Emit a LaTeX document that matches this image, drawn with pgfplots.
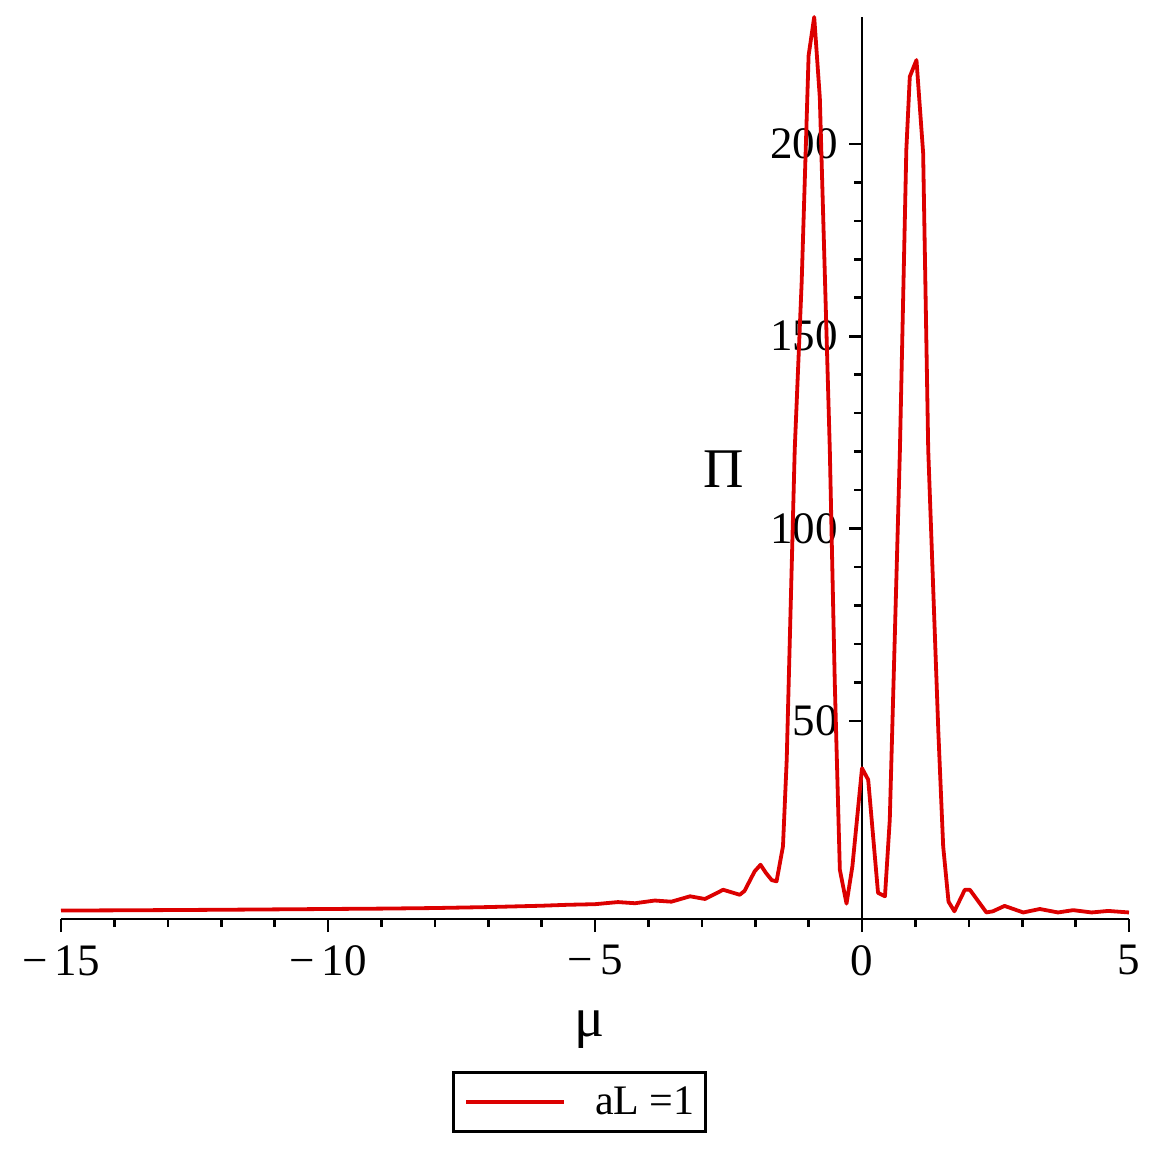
\documentclass[border=0pt]{standalone}
\usepackage{fontspec}
\setmainfont{Liberation Serif}
\usepackage{pgfplots}
\pgfplotsset{compat=1.18}
\definecolor{maplered}{RGB}{220,0,0}

\pgfplotstableread{
x y
-15 0.7
-14 0.75
-13 0.82
-12 0.9
-11 1.0
-10 1.1
-9 1.2
-8 1.35
-7 1.6
-6 1.95
-5.5 2.2
-5 2.35
-4.57 2.9
-4.25 2.6
-3.88 3.3
-3.57 3.0
-3.22 4.4
-2.94 3.7
-2.6 6.1
-2.29 4.8
-2.2 5.8
-2.01 10.9
-1.90 12.6
-1.80 10.5
-1.69 8.6
-1.60 8.3
-1.48 17.4
-1.41 39.9
-1.26 120.5
-1.13 164
-1.0 223
-0.895 233
-0.79 212
-0.603 120.5
-0.51 60
-0.415 11.3
-0.29 2.5
-0.18 12.2
0.0 37.7
0.116 34.7
0.30 5.3
0.43 4.4
0.52 24.3
0.71 120.5
0.83 198.5
0.895 217.5
1.02 221.8
1.145 197.6
1.24 120.5
1.43 47
1.52 17.4
1.62 3.0
1.73 0.5
1.925 6.1
2.02 6.1
2.33 0.2
2.45 0.5
2.67 1.9
3.02 0.2
3.33 1.1
3.67 0.2
3.955 0.8
4.3 0.2
4.61 0.6
5.0 0.2
}\pitable

\begin{document}
\begin{tikzpicture}
  % frame of the whole reference picture (1 px = 0.5pt)
  \path[use as bounding box] (-30.5pt,-118.5pt) rectangle (547.5pt,459.5pt);
  \begin{axis}[
    at={(0pt,0pt)}, anchor=south west,
    scale only axis,
    width=534pt, height=451pt,
    xmin=-15, xmax=5,
    ymin=-1.5, ymax=233,
    line width=1.4pt,
    axis x line*=bottom,
    axis y line*=center,
    separate axis lines,
    every outer x axis line/.append style={line width=1.4pt},
    every inner y axis line/.append style={line width=1.4pt},
    every outer y axis line/.append style={line width=1.4pt},
    every tick/.style={black, line width=1.3pt},
    tick align=outside,
    major tick length=6.5pt,
    minor tick length=4pt,
    hide obscured x ticks=false,
    xtick={-15,-10,-5,0,5},
    xticklabels={−\,15,−\,10,−\,5,0,5},
    minor x tick num=4,
    ytick={50,100,150,200},
    yticklabels={50,100,150,200},
    minor y tick num=4,
    tick label style={font=\fontsize{22.5}{27}\selectfont, inner sep=0pt},
    xticklabel style={anchor=north, yshift=-6pt},
    yticklabel style={anchor=east, xshift=-5pt},
    xlabel={μ},
    ylabel={Π},
    label style={font=\fontsize{28}{33}\selectfont},
    xlabel style={at={(axis description cs:0.4953,-0.1227)}, anchor=center},
    ylabel style={at={(axis description cs:0.6205,0.4987)}, anchor=center, rotate=-90},
    clip=false,
    legend style={
      at={(axis description cs:0.4855,-0.2031)}, anchor=center,
      draw=black, line width=1.35pt,
      inner xsep=5.5pt, inner ysep=7pt,
      column sep=14.5pt,
      nodes={inner sep=0pt},
      font=\fontsize{21}{25}\selectfont,
    },
    legend cell align=left,
    legend image code/.code={\draw[#1] (0pt,0pt) -- (49pt,0pt);},
  ]
    \addplot[color=maplered, line width=1.9pt, line join=round] table[x=x, y=y] {\pitable};
    \addlegendentry{aL =1\hspace{4.5pt}}
  \end{axis}
\end{tikzpicture}
\end{document}
